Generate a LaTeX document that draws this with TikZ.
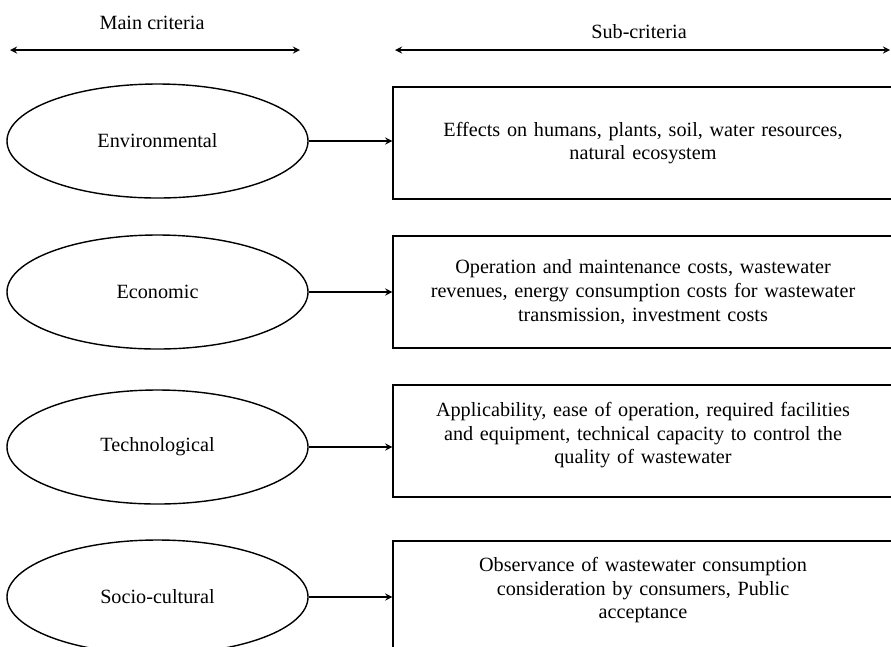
\documentclass[tikz,border=0pt]{standalone}
\usepackage{fontspec}
\setmainfont{Liberation Serif}
\usetikzlibrary{shapes.geometric}
\begin{document}
\begin{tikzpicture}[>=stealth, line width=0.8pt, font=\fontsize{11.5}{13.4}\selectfont,
  crit/.style={draw, ellipse, inner sep=0pt, minimum width=6.02cm, minimum height=2.28cm},
  subcrit/.style={draw, rectangle, align=center, text width=9cm, minimum width=10cm, minimum height=2.24cm}]
\clip (0,0) rectangle (17.82,-12.92);
\node (mainlbl) at (3.04,-0.46) {Main criteria};
\node (sublbl) at (12.78,-0.64) {Sub-criteria};
\coordinate (mainL) at (0.2,-1.0);
\coordinate (mainR) at (6.0,-1.0);
\coordinate (subL) at (7.9,-1.0);
\coordinate (subR) at (17.8,-1.0);
\draw[<->] (mainL) -- (mainR);
\draw[<->] (subL) -- (subR);
\node[crit] (env) at (3.15,-2.82) {Environmental};
\node[crit] (eco) at (3.15,-5.84) {Economic};
\node[crit] (tech) at (3.15,-8.94) {Technological};
\node[crit] (soc) at (3.15,-11.94) {Socio-cultural};
\node[subcrit] (envsub) at (12.86,-2.86) {Effects on humans, plants, soil, water resources,\\natural ecosystem};
\node[subcrit] (ecosub) at (12.86,-5.84) {Operation and maintenance costs, wastewater\\revenues, energy consumption costs for wastewater\\transmission, investment costs};
\node[subcrit, text depth=36pt] (techsub) at (12.86,-8.82) {Applicability, ease of operation, required facilities\\and equipment, technical capacity to control the\\quality of wastewater};
\node[subcrit, text depth=37pt] (socsub) at (12.86,-11.94) {Observance of wastewater consumption\\consideration by consumers, Public\\acceptance};
\draw[->] (env.east) -- (env.east -| envsub.west);
\draw[->] (eco.east) -- (eco.east -| ecosub.west);
\draw[->] (tech.east) -- (tech.east -| techsub.west);
\draw[->] (soc.east) -- (soc.east -| socsub.west);
\end{tikzpicture}
\end{document}
